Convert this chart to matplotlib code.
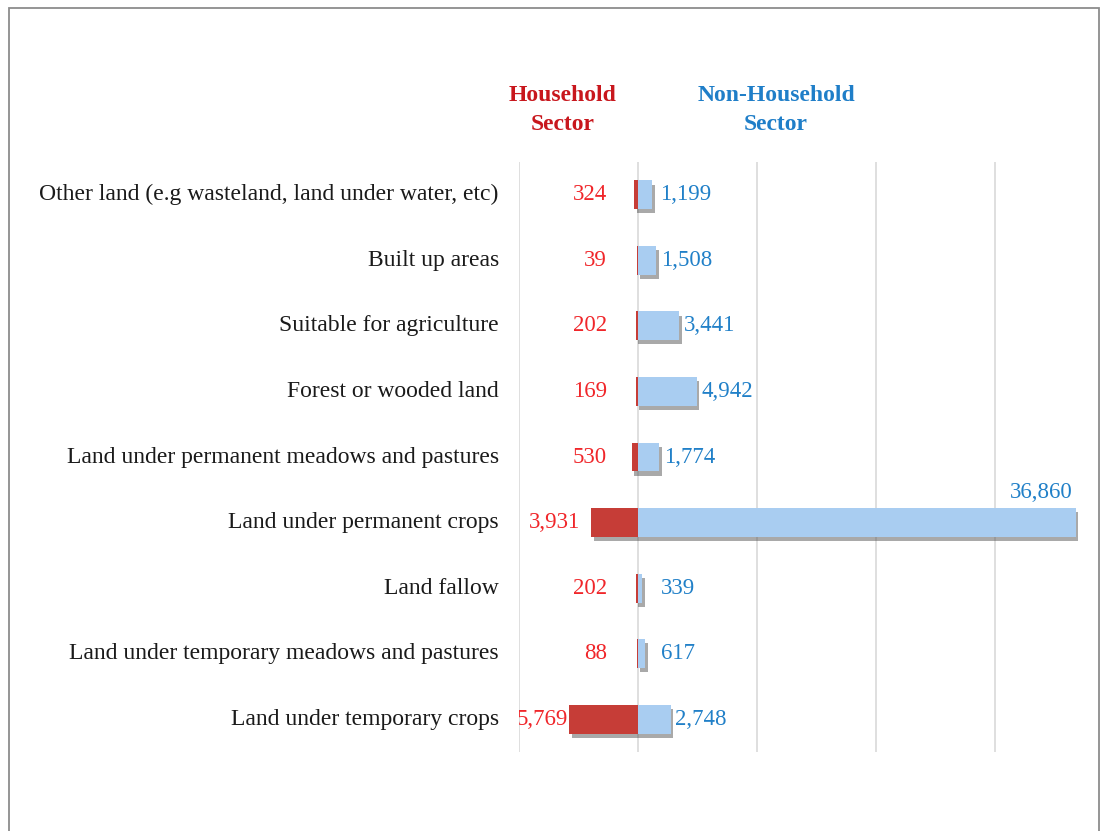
import matplotlib.pyplot as plt
import matplotlib.patheffects as pe
from matplotlib.patches import Rectangle
import numpy as np

categories = [
    "Other land (e.g wasteland, land under water, etc)",
    "Built up areas",
    "Suitable for agriculture",
    "Forest or wooded land",
    "Land under permanent meadows and pastures",
    "Land under permanent crops",
    "Land fallow",
    "Land under temporary meadows and pastures",
    "Land under temporary crops",
]
household = [324, 39, 202, 169, 530, 3931, 202, 88, 5769]
non_household = [1199, 1508, 3441, 4942, 1774, 36860, 339, 617, 2748]

serif = "Liberation Serif"
red_bar = "#c63d37"
blue_bar = "#a9cdf1"
red_txt = "#f0262a"
blue_txt = "#2180c8"

fig = plt.figure(figsize=(11.01, 8.31), dpi=100)
ax = fig.add_axes([519 / 1101, 79 / 831, 559 / 1101, 590 / 831])

y = np.arange(len(categories))
h = 0.44
shadow = [pe.SimplePatchShadow(offset=(2, -3), shadow_rgbFace="#555555", alpha=0.5), pe.Normal()]

hb = ax.barh(y, [-v for v in household], height=h, color=red_bar, zorder=3)
nb = ax.barh(y, non_household, height=h, color=blue_bar, zorder=3)
for b in list(hb) + list(nb):
    b.set_path_effects(shadow)

ax.set_xlim(-10000, 37000)
ax.set_ylim(len(categories) - 0.5, -0.5)
for gx in [-10000, 0, 10000, 20000, 30000]:
    ax.axvline(gx, color="#d9d9d9", lw=1.2, zorder=1)

for s in ax.spines.values():
    s.set_visible(False)
ax.set_xticks([])
ax.set_yticks([])

# category names
for i, c in enumerate(categories):
    ax.text(-11700, i, c, ha="right", va="center", fontsize=17,
            family=serif, color="#1a1a1a", clip_on=False)

# value labels
for i, v in enumerate(household):
    off = 900 if v < 5000 else 150
    ax.text(-max(2600, v + off), i, f"{v:,}", ha="right", va="center",
            fontsize=16.5, family=serif, color=red_txt, clip_on=True)
for i, v in enumerate(non_household):
    if v > 30000:
        ax.text(v - 300, i - h / 2 - 0.08, f"{v:,}", ha="right", va="bottom",
                fontsize=16.5, family=serif, color=blue_txt, clip_on=False)
    else:
        ax.text(max(1900, v + 400), i, f"{v:,}", ha="left", va="center",
                fontsize=16.5, family=serif, color=blue_txt, clip_on=False)

# headers
fig.text(563 / 1101, 1 - 110 / 831, "Household\nSector", ha="center", va="center",
         fontsize=17, fontweight="bold", family=serif, color="#c8171d", linespacing=1.55)
fig.text(776 / 1101, 1 - 110 / 831, "Non-Household\nSector", ha="center", va="center",
         fontsize=17, fontweight="bold", family=serif, color="#1f7ec8", linespacing=1.55)

# outer frame
fig.patches.append(Rectangle((9 / 1101, -0.05), 1090 / 1101, 1.05 - 8 / 831,
                             transform=fig.transFigure, fill=False,
                             edgecolor="#8c8c8c", lw=1.3))

fig.savefig("out.png", dpi=100)
